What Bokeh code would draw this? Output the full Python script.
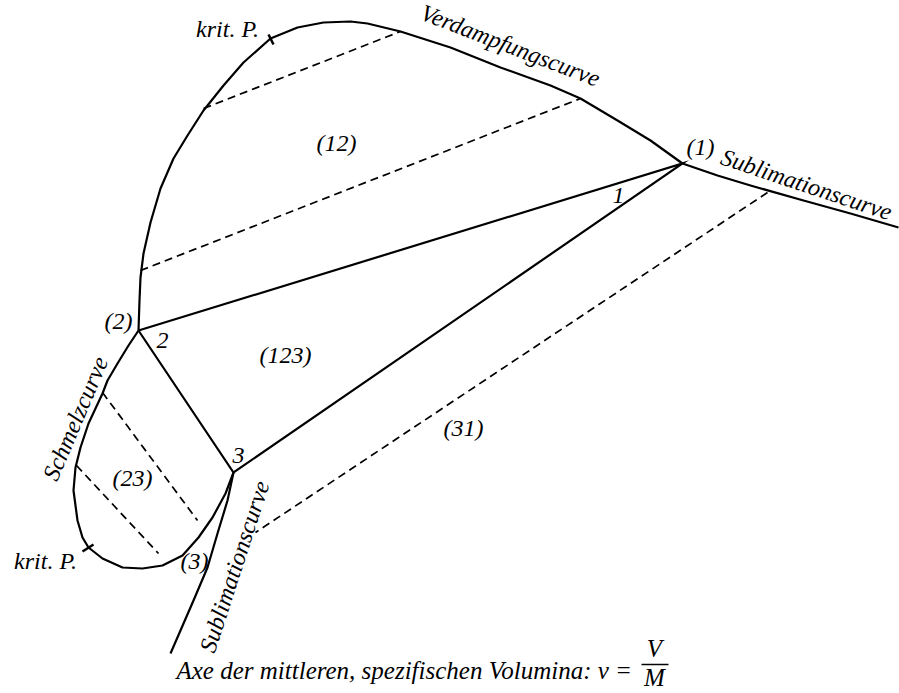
import math
from bokeh.plotting import figure
from bokeh.models import Range1d
from bokeh.core.properties import value
from bokeh.embed import file_html
from bokeh.resources import INLINE

# ---- diagram data (image pixel coordinates, y downward) ----
verd_x = [138, 139, 140, 143, 150, 160, 173, 187, 203, 223, 243, 270, 297, 323, 350, 367, 400, 450, 500, 550, 580, 617, 650, 682]
verd_y = [330, 300, 277, 253, 222, 188, 158, 135, 110, 85, 62, 38, 27, 22, 21, 23, 31, 47, 67, 85, 98, 120, 140, 163]

subl1_x = [682, 717, 750, 803, 850, 898]
subl1_y = [163, 175, 185, 200, 213, 227]

schm_x = [138, 128, 117, 107, 102, 88, 80, 75, 73, 77, 82, 88, 102, 122, 142, 162, 182, 198, 212, 225, 233]
schm_y = [330, 345, 363, 380, 393, 423, 447, 467, 490, 520, 537, 547, 558, 567, 568, 565, 555, 537, 517, 493, 472]

subl3_x = [233, 227, 217, 207, 193, 170]
subl3_y = [472, 500, 533, 567, 600, 653]

tri_x = [138, 682, 233, 138]
tri_y = [330, 163, 472, 330]

dash_x0 = [203, 140, 767, 102, 76]
dash_y0 = [108, 270, 192, 392, 465]
dash_x1 = [400, 580, 255, 197, 158]
dash_y1 = [31, 98, 532, 520, 553]

tick_x0 = [268, 82]
tick_y0 = [34, 551]
tick_x1 = [273, 93]
tick_y1 = [44, 544]

lab_text = ["krit. P.", "krit. P.", "(1)", "1", "(12)", "(2)", "2", "(123)", "(31)", "3", "(23)", "(3)"]
lab_x = [227, 45, 700, 618, 336, 118, 162, 285, 463, 238, 132, 194]
lab_y = [28, 560, 146, 195, 142, 320, 340, 354, 427, 455, 477, 560]

rot_text = ["Verdampfungscurve", "Sublimationscurve", "Schmelzcurve", "Sublimationscurve"]
rot_x = [510, 806, 75, 234]
rot_y = [45, 184, 418, 566]
rot_deg = [-21, -18.5, 67, 72]

axis_text = "Axe der mittleren, spezifischen Volumina: v ="
frac_num = "V"
frac_den = "M"

W, H = 899, 693
p = figure(width=W, height=H, output_backend="svg", toolbar_location=None,
           x_range=Range1d(0, W), y_range=Range1d(H, 0),
           x_axis_location=None, y_axis_location=None, min_border=0)
p.outline_line_color = None
p.grid.visible = False
p.background_fill_color = "white"
p.border_fill_color = "white"

LW = 2.2
p.line(verd_x, verd_y, line_color="black", line_width=LW, line_join="round")
p.line(subl1_x, subl1_y, line_color="black", line_width=LW, line_join="round")
p.line(schm_x, schm_y, line_color="black", line_width=LW, line_join="round")
p.line(subl3_x, subl3_y, line_color="black", line_width=LW, line_join="round")
p.line(tri_x, tri_y, line_color="black", line_width=LW, line_join="miter")
p.segment(dash_x0, dash_y0, dash_x1, dash_y1, line_color="black", line_width=1.7, line_dash="8 5")
p.segment(tick_x0, tick_y0, tick_x1, tick_y1, line_color="black", line_width=2.5)

FONT = value("Liberation Serif")
FS = value("24px")
p.text(x=lab_x, y=lab_y, text=lab_text, text_font=FONT, text_font_style="italic",
       text_font_size=FS, text_align="center", text_baseline="middle", text_color="black")
p.text(x=rot_x, y=rot_y, text=rot_text, angle=[math.radians(a) for a in rot_deg],
       text_font=FONT, text_font_style="italic",
       text_font_size=FS, text_align="center", text_baseline="middle", text_color="black")

p.text(x=[176], y=[670], text=[axis_text], text_font=FONT, text_font_style="italic",
       text_font_size=value("25px"), text_align="left", text_baseline="alphabetic", text_color="black")
p.text(x=[654, 654], y=[648, 677], text=[frac_num, frac_den], text_font=FONT, text_font_style="italic",
       text_font_size=value("25px"), text_align="center", text_baseline="middle", text_color="black")
p.segment([641], [664], [668], [664], line_color="black", line_width=1.5)

open("out.html", "w").write(file_html(p, INLINE))
